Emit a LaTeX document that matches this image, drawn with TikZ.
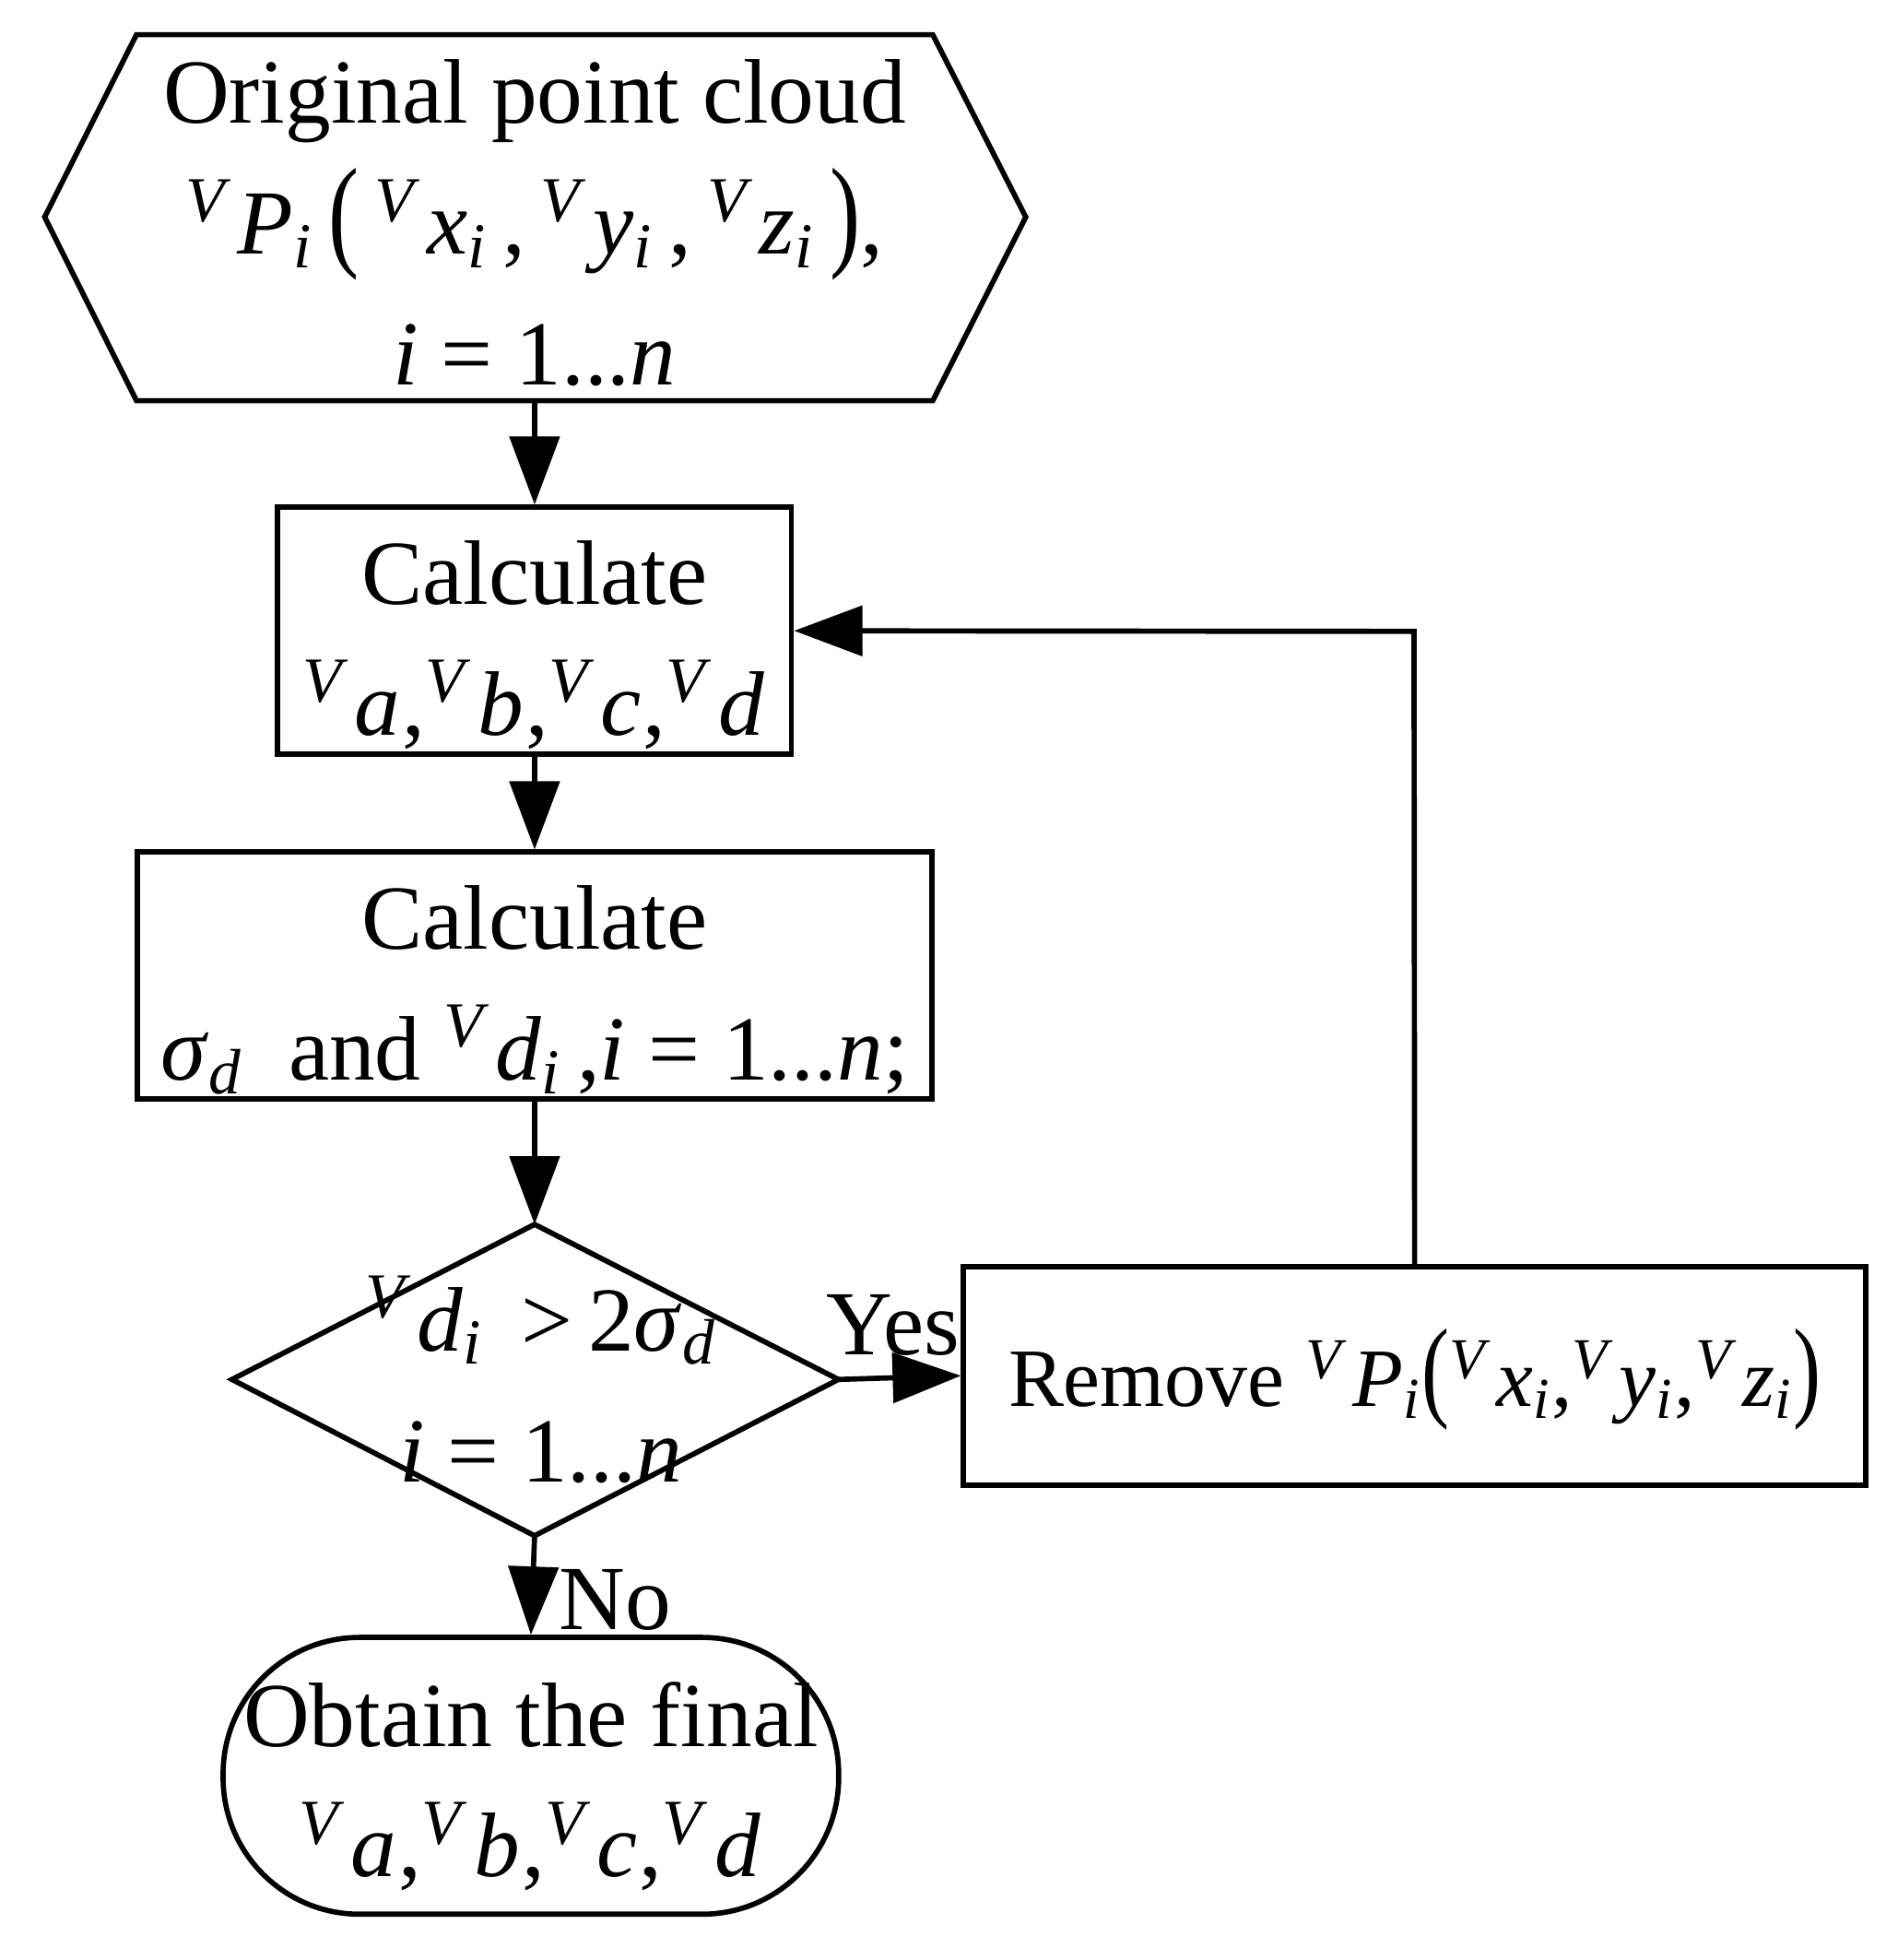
\documentclass[tikz,border=0pt]{standalone}
\usepackage{fontspec}
\setmainfont{Liberation Serif}
\usetikzlibrary{arrows.meta}
\newcommand\vv[2]{\textsuperscript{\itshape V\,}\textit{#1}\textsubscript{\itshape #2}}
\newcommand\bigp[1]{\scalebox{1}[1.35]{#1}}
\begin{document}
\begin{tikzpicture}[x=0.01cm,y=-0.01cm,
  ln/.style={line width=1.2pt},
  arr/.style={ln,-{Triangle[length=0.55cm,width=0.4cm]}},
  txt/.style={font=\fontsize{21}{30}\selectfont,align=center}]
\useasboundingbox (0,0) rectangle (1530,1580);
% hexagon
\draw[ln] (110,28)--(752,28)--(827,175)--(752,323)--(110,323)--(36,175)--cycle;
\node[txt] (hex) at (431,180) {Original point cloud\\ \vv{P}{i}\,\bigp{(}\,\vv{x}{i}\,,\,\vv{y}{i}\,,\,\vv{z}{i}\,\bigp{)},\\ \textit{i} = 1...\textit{n}};
\coordinate (hexb) at (431,323);
% box1
\node[draw,ln,minimum width=4.14cm,minimum height=1.99cm] (b1) at (431,508.5) {};
\node[txt] at (431,520) {Calculate\\ \vv{a}{},\vv{b}{},\vv{c}{},\vv{d}{}};
% box2
\node[draw,ln,minimum width=6.40cm,minimum height=1.99cm] (b2) at (431,786.5) {};
\node[txt] at (431,798) {Calculate\\ \textit{σ}\textsubscript{\itshape d}\ \ and \vv{d}{i}\,,\textit{i} = 1...\textit{n};};
% diamond
\draw[ln] (187,1112) coordinate (dl) -- (431,987) coordinate (dt) -- (676,1112) coordinate (dr) -- (431,1238) coordinate (db) -- cycle;
\node[txt] (dia) at (436,1112) {\vv{d}{i} \,>\,2\textit{σ}\textsubscript{\itshape d}\\ \textit{i} = 1...\textit{n}};
% remove box
\node[draw,ln,minimum width=7.27cm,minimum height=1.76cm] (rm) at (1140.5,1109) {};
\node[txt,font=\fontsize{19}{27}\selectfont] at (1140.5,1112) {Remove \vv{P}{i}\bigp{(}\vv{x}{i},\vv{y}{i},\vv{z}{i}\bigp{)}};
% terminal
\node[draw,ln,minimum width=4.96cm,minimum height=2.23cm,rounded corners=1.1cm] (term) at (428,1431.5) {};
\node[txt] at (428,1440) {Obtain the final\\ \vv{a}{},\vv{b}{},\vv{c}{},\vv{d}{}};
% arrows
\draw[arr] (hexb) -- (b1.north);
\draw[arr] (b1.south) -- (b2.north);
\draw[arr] (b2.south) -- (dt);
\draw[arr] (dr) -- (rm.west);
\node[txt] (yes) at (720,1068) {Yes};
\draw[arr] (db) -- (term.north);
\node[txt] (no) at (496,1290) {No};
\draw[arr] (rm.north) -- (1140,509) -- (b1.east);
\end{tikzpicture}
\end{document}
